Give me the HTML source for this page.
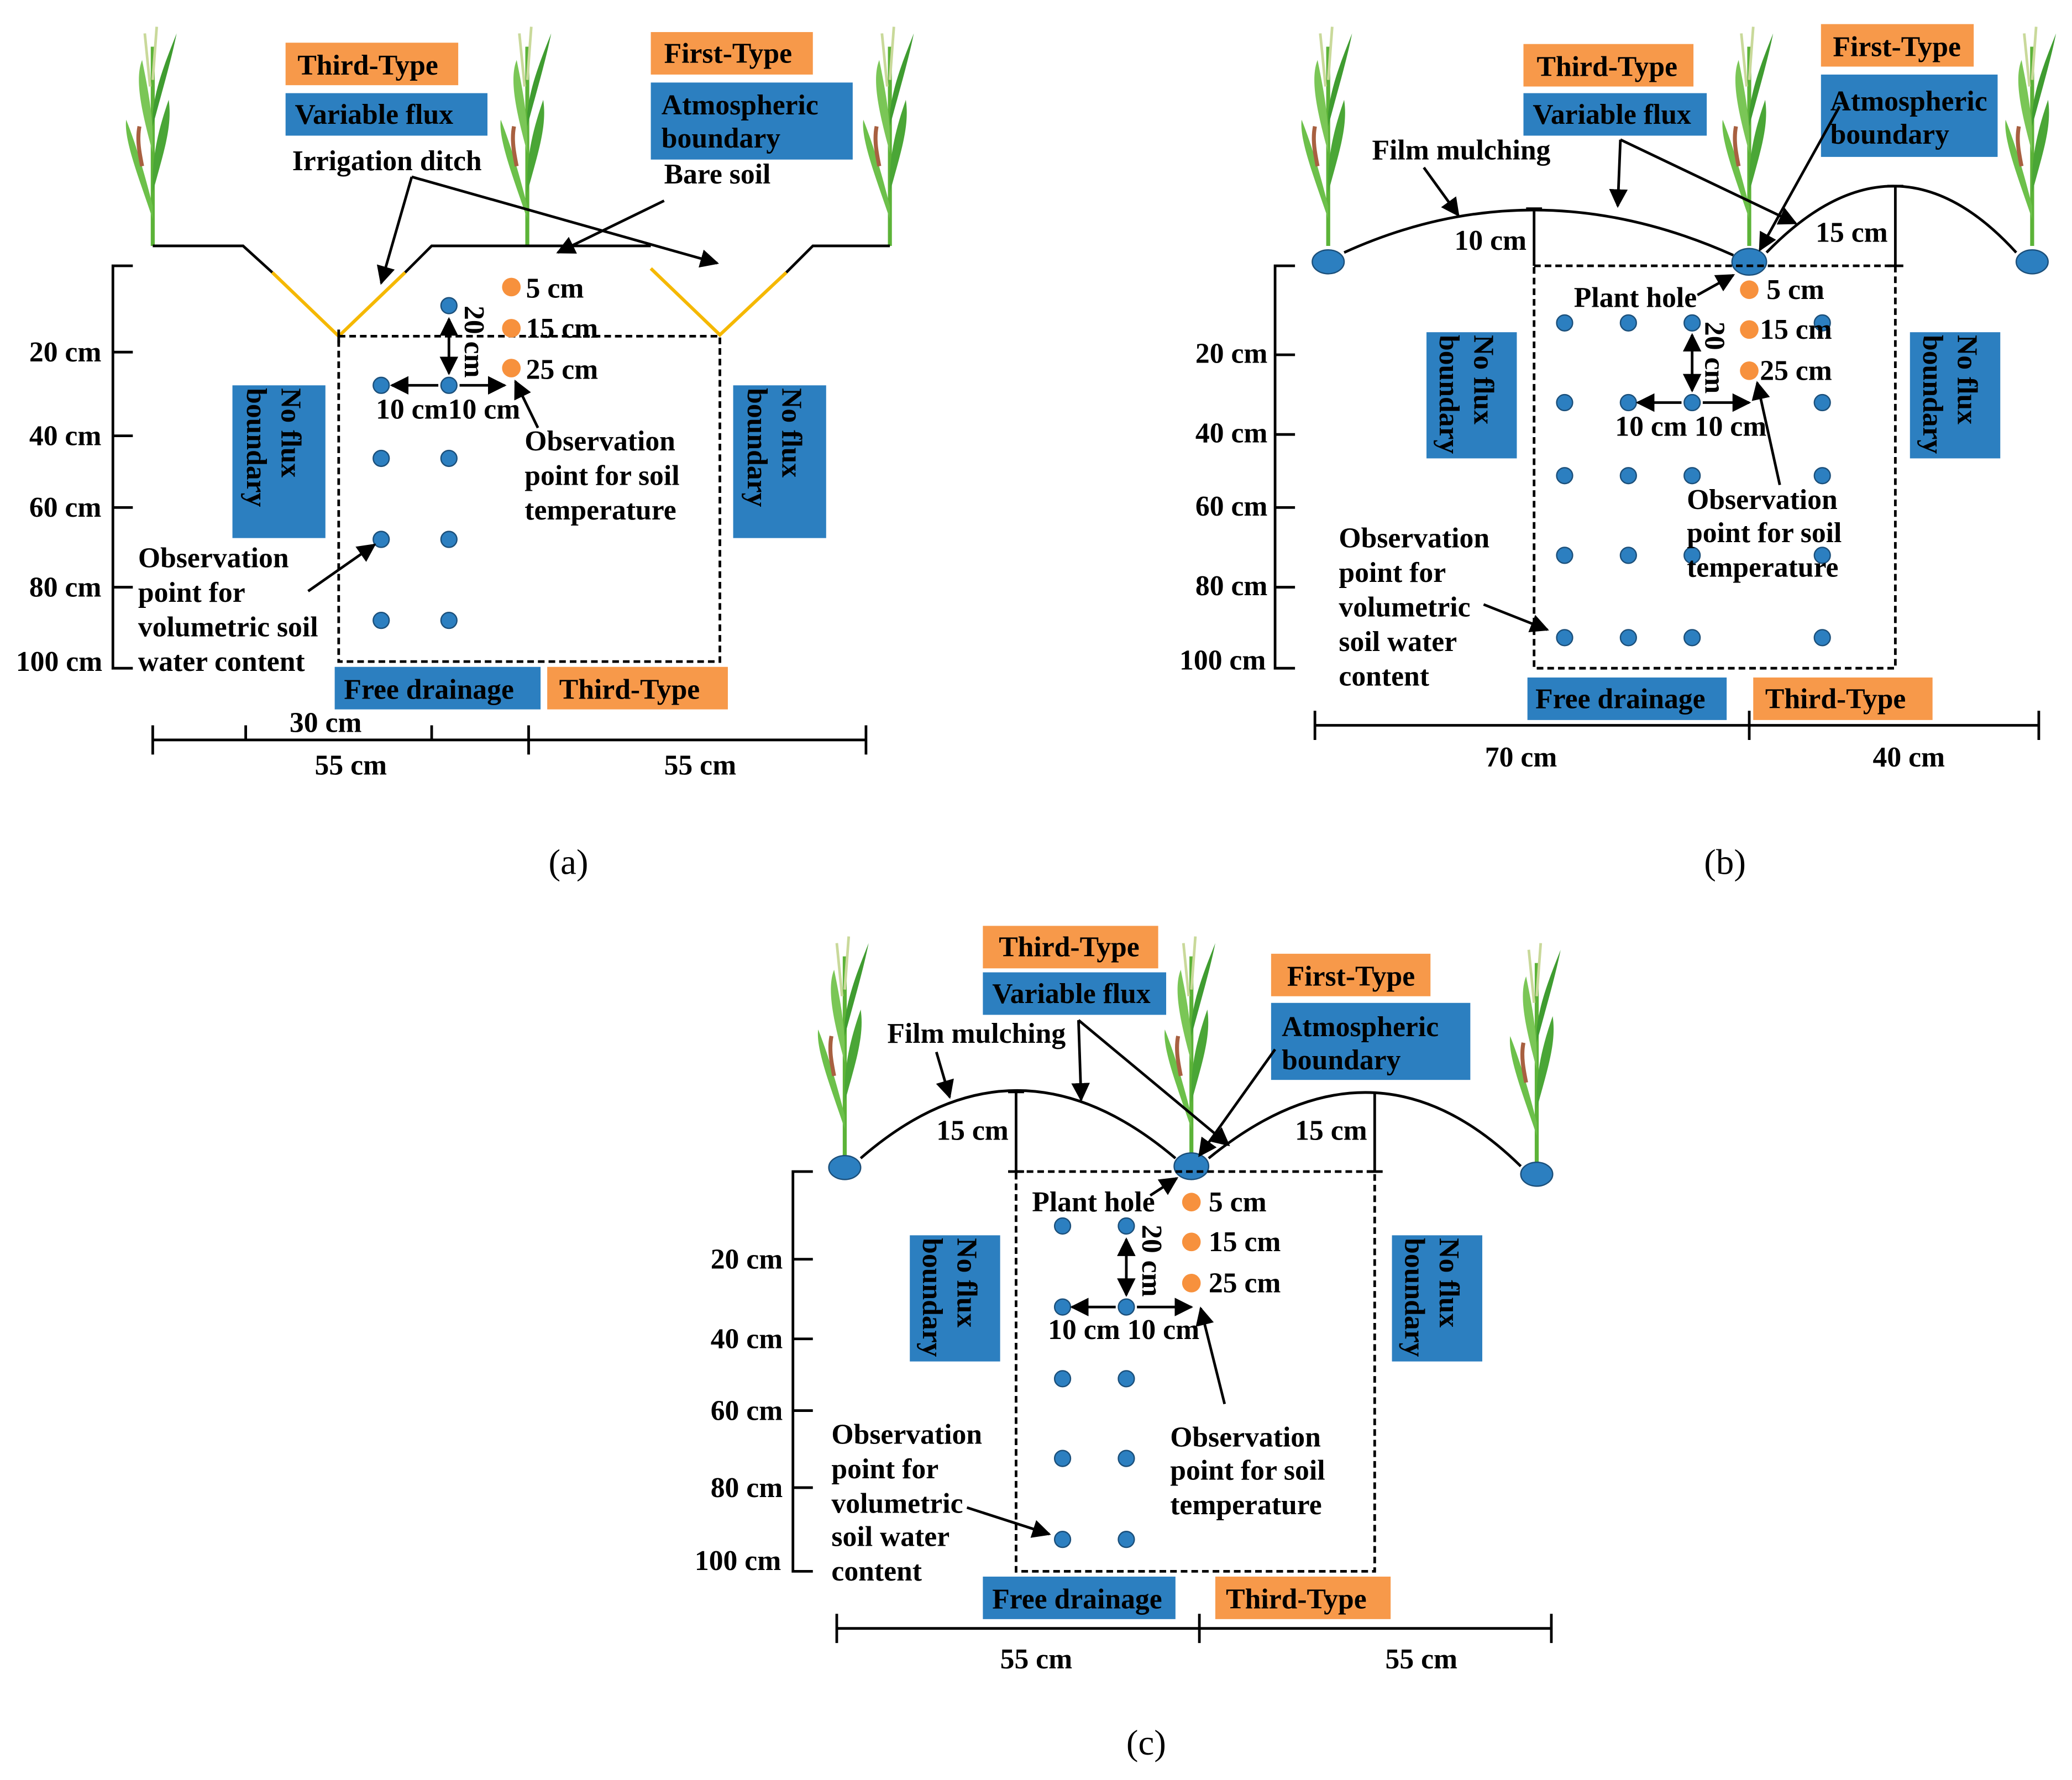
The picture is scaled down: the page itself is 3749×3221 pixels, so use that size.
<!DOCTYPE html>
<html><head><meta charset="utf-8"><style>html,body{margin:0;padding:0;background:#fff}svg{display:block}
text{font-family:"Liberation Serif",serif;font-weight:bold;font-size:21.5px;fill:#000}
.o{fill:#F7994A}.b{fill:#2C7FC0}.lab{font-size:27px;font-weight:normal}
.ln{stroke:#000;stroke-width:2;fill:none}
.dot{fill:#2C7FC0;stroke:#1b4f7a;stroke-width:1}.od{fill:#F7913D}
</style></head><body>
<svg width="3749" height="3221" viewBox="0 0 1560 1340" xmlns="http://www.w3.org/2000/svg">
<defs>
<marker id="ar" viewBox="0 0 10 10" refX="9" refY="5" markerWidth="7" markerHeight="7" orient="auto-start-reverse"><path d="M0,0 L10,5 L0,10 z" fill="#000"/></marker>
<g id="plant">
<path d="M0,0 L0,-150" stroke="#5cb338" stroke-width="3"/>
<path d="M0,-20 C-10,-50 -22,-80 -20,-95 C-12,-75 -5,-50 0,-30z" fill="#6cc04a"/>
<path d="M0,-40 C8,-70 15,-90 12,-110 C5,-90 0,-70 0,-50z" fill="#4aa636"/>
<path d="M0,-70 C-8,-100 -14,-125 -8,-140 C-4,-120 0,-100 0,-80z" fill="#7ac656"/>
<path d="M0,-90 C8,-120 14,-140 18,-160 C10,-140 2,-120 0,-100z" fill="#3f9c30"/>
<path d="M-2,-120 L-6,-160 M0,-125 L3,-165" stroke="#c9d99a" stroke-width="2"/>
<path d="M-8,-60 C-10,-70 -12,-80 -10,-90" stroke="#a86040" stroke-width="3" fill="none"/>
</g>
</defs>
<rect width="1560" height="1340" fill="#fff"/>

<!-- ===== (a) ===== -->
<use href="#plant" x="115" y="185"/><use href="#plant" x="397" y="185"/><use href="#plant" x="670" y="185"/>
<polyline class="ln" points="115,185 183,185 205,205"/>
<polyline points="205,205 255,253 305,205" stroke="#F5B800" stroke-width="2.5" fill="none"/>
<polyline class="ln" points="305,205 325,185 490,185"/>
<polyline points="490,202 542,252 592,205" stroke="#F5B800" stroke-width="2.5" fill="none"/>
<polyline class="ln" points="592,205 612,185 670,185"/>
<rect x="255" y="253" width="287" height="245" fill="none" stroke="#000" stroke-width="2" stroke-dasharray="5,3"/>
<path class="ln" d="M255,248 V258 M100,200 H85 V503 H100 M85,265 H100 M85,328 H100 M85,382 H100 M85,442 H100"/>
<text x="22" y="272">20 cm</text><text x="22" y="335">40 cm</text><text x="22" y="389">60 cm</text><text x="22" y="449">80 cm</text><text x="12" y="505">100 cm</text>
<rect class="o" x="215" y="32" width="130" height="32"/><text x="224" y="56">Third-Type</text>
<rect class="b" x="215" y="70" width="152" height="32"/><text x="222" y="93">Variable flux</text>
<rect class="o" x="490" y="24" width="122" height="32"/><text x="500" y="47">First-Type</text>
<rect class="b" x="490" y="62" width="152" height="58"/><text x="498" y="86">Atmospheric</text><text x="498" y="111">boundary</text>
<rect class="b" x="175" y="290" width="70" height="115"/><text transform="translate(212,292) rotate(90)">No flux</text><text transform="translate(186,292) rotate(90)">boundary</text>
<rect class="b" x="552" y="290" width="70" height="115"/><text transform="translate(589,292) rotate(90)">No flux</text><text transform="translate(563,292) rotate(90)">boundary</text>
<rect class="b" x="252" y="502" width="155" height="32"/><text x="259" y="526">Free drainage</text>
<rect class="o" x="412" y="502" width="136" height="32"/><text x="421" y="526">Third-Type</text>
<path class="ln" d="M115,557 H652 M115,546 V568 M185,546 V557 M325,546 V557 M398,546 V568 M652,546 V568"/>
<text x="218" y="551">30 cm</text><text x="237" y="583">55 cm</text><text x="500" y="583">55 cm</text>
<text x="220" y="128">Irrigation ditch</text><text x="500" y="138">Bare soil</text>
<path class="ln" d="M310,133 L287,213" marker-end="url(#ar)"/><path class="ln" d="M310,133 L540,198" marker-end="url(#ar)"/>
<path class="ln" d="M500,151 L420,190" marker-end="url(#ar)"/>
<g class="dot"><circle cx="338" cy="230" r="6"/><circle cx="287" cy="290" r="6"/><circle cx="338" cy="290" r="6"/><circle cx="287" cy="345" r="6"/><circle cx="338" cy="345" r="6"/><circle cx="287" cy="406" r="6"/><circle cx="338" cy="406" r="6"/><circle cx="287" cy="467" r="6"/><circle cx="338" cy="467" r="6"/></g>
<g class="od"><circle cx="385" cy="216" r="7"/><circle cx="385" cy="247" r="7"/><circle cx="385" cy="277" r="7"/></g>
<text x="396" y="224">5 cm</text><text x="396" y="254">15 cm</text><text x="396" y="285">25 cm</text>
<path class="ln" d="M338,240 V281" marker-start="url(#ar)" marker-end="url(#ar)"/>
<path class="ln" d="M295,290 H330 M346,290 H380" marker-start="url(#ar)" marker-end="url(#ar)"/>
<text transform="translate(350,230) rotate(90)">20 cm</text>
<text x="283" y="315">10 cm10 cm</text>
<text x="395" y="339">Observation</text><text x="395" y="365">point for soil</text><text x="395" y="391">temperature</text>
<path class="ln" d="M405,322 L388,287" marker-end="url(#ar)"/>
<text x="104" y="427">Observation</text><text x="104" y="453">point for</text><text x="104" y="479">volumetric soil</text><text x="104" y="505">water content</text>
<path class="ln" d="M232,445 L282,410" marker-end="url(#ar)"/>
<text class="lab" x="413" y="658">(a)</text>

<!-- ===== (b) ===== -->
<use href="#plant" x="1000" y="185"/><use href="#plant" x="1317" y="185"/><use href="#plant" x="1530" y="185"/>
<path class="ln" d="M1012,190 Q1155,125 1305,192"/>
<path class="ln" d="M1330,190 Q1427,90 1518,190"/>
<g class="dot"><ellipse cx="1000" cy="197" rx="12" ry="9"/><ellipse cx="1317" cy="197" rx="13" ry="10"/><ellipse cx="1530" cy="197" rx="12" ry="9"/></g>
<rect x="1155" y="200" width="272" height="303" fill="none" stroke="#000" stroke-width="2" stroke-dasharray="5,3"/>
<path class="ln" d="M1155,157 V200 M1149,157 H1161 M1427,140 V200 M1421,140 H1433 M1421,200 H1433"/>
<text x="1095" y="188">10 cm</text><text x="1367" y="182">15 cm</text>
<path class="ln" d="M975,200 H960 V503 H975 M960,267 H975 M960,327 H975 M960,382 H975 M960,442 H975"/>
<text x="900" y="273">20 cm</text><text x="900" y="333">40 cm</text><text x="900" y="388">60 cm</text><text x="900" y="448">80 cm</text><text x="888" y="504">100 cm</text>
<rect class="o" x="1147" y="33" width="128" height="32"/><text x="1157" y="57">Third-Type</text>
<rect class="b" x="1147" y="70" width="138" height="32"/><text x="1154" y="93">Variable flux</text>
<rect class="o" x="1371" y="18" width="115" height="32"/><text x="1380" y="42">First-Type</text>
<rect class="b" x="1371" y="56" width="133" height="62"/><text x="1378" y="83">Atmospheric</text><text x="1378" y="108">boundary</text>
<rect class="b" x="1074" y="250" width="68" height="95"/><text transform="translate(1110,252) rotate(90)">No flux</text><text transform="translate(1084,252) rotate(90)">boundary</text>
<rect class="b" x="1438" y="250" width="68" height="95"/><text transform="translate(1474,252) rotate(90)">No flux</text><text transform="translate(1448,252) rotate(90)">boundary</text>
<rect class="b" x="1150" y="510" width="150" height="32"/><text x="1156" y="533">Free drainage</text>
<rect class="o" x="1320" y="510" width="135" height="32"/><text x="1329" y="533">Third-Type</text>
<path class="ln" d="M990,546 H1535 M990,535 V557 M1317,535 V557 M1535,535 V557"/>
<text x="1118" y="577">70 cm</text><text x="1410" y="577">40 cm</text>
<text x="1033" y="120">Film mulching</text>
<path class="ln" d="M1072,126 L1098,162" marker-end="url(#ar)"/>
<path class="ln" d="M1220,105 L1218,155" marker-end="url(#ar)"/><path class="ln" d="M1220,105 L1352,168" marker-end="url(#ar)"/>
<path class="ln" d="M1385,80 L1325,188" marker-end="url(#ar)"/>
<text x="1185" y="231">Plant hole</text><path class="ln" d="M1278,222 L1305,207" marker-end="url(#ar)"/>
<g class="dot">
<circle cx="1178" cy="243" r="6"/><circle cx="1226" cy="243" r="6"/><circle cx="1274" cy="243" r="6"/><circle cx="1372" cy="243" r="6"/>
<circle cx="1178" cy="303" r="6"/><circle cx="1226" cy="303" r="6"/><circle cx="1274" cy="303" r="6"/><circle cx="1372" cy="303" r="6"/>
<circle cx="1178" cy="358" r="6"/><circle cx="1226" cy="358" r="6"/><circle cx="1274" cy="358" r="6"/><circle cx="1372" cy="358" r="6"/>
<circle cx="1178" cy="418" r="6"/><circle cx="1226" cy="418" r="6"/><circle cx="1274" cy="418" r="6"/><circle cx="1372" cy="418" r="6"/>
<circle cx="1178" cy="480" r="6"/><circle cx="1226" cy="480" r="6"/><circle cx="1274" cy="480" r="6"/><circle cx="1372" cy="480" r="6"/></g>
<g class="od"><circle cx="1317" cy="218" r="7"/><circle cx="1317" cy="248" r="7"/><circle cx="1317" cy="279" r="7"/></g>
<text x="1330" y="225">5 cm</text><text x="1325" y="255">15 cm</text><text x="1325" y="286">25 cm</text>
<path class="ln" d="M1274,252 V294" marker-start="url(#ar)" marker-end="url(#ar)"/>
<path class="ln" d="M1233,303 H1266 M1282,303 H1317" marker-start="url(#ar)" marker-end="url(#ar)"/>
<text transform="translate(1284,242) rotate(90)">20 cm</text>
<text x="1216" y="328">10 cm 10 cm</text>
<text x="1270" y="383">Observation</text><text x="1270" y="408">point for soil</text><text x="1270" y="434">temperature</text>
<path class="ln" d="M1340,365 L1323,288" marker-end="url(#ar)"/>
<text x="1008" y="412">Observation</text><text x="1008" y="438">point for</text><text x="1008" y="464">volumetric</text><text x="1008" y="490">soil water</text><text x="1008" y="516">content</text>
<path class="ln" d="M1117,455 L1165,474" marker-end="url(#ar)"/>
<text class="lab" x="1283" y="658">(b)</text>

<!-- ===== (c) ===== -->
<use href="#plant" x="636" y="870"/><use href="#plant" x="897" y="870"/><use href="#plant" x="1157" y="875"/>
<path class="ln" d="M648,872 Q765,770 885,872"/>
<path class="ln" d="M910,872 Q1035,770 1145,878"/>
<g class="dot"><ellipse cx="636" cy="879" rx="12" ry="9"/><ellipse cx="897" cy="878" rx="13" ry="10"/><ellipse cx="1157" cy="884" rx="12" ry="9"/></g>
<rect x="765" y="882" width="270" height="301" fill="none" stroke="#000" stroke-width="2" stroke-dasharray="5,3"/>
<path class="ln" d="M765,822 V882 M759,822 H771 M759,882 H771 M1035,822 V882 M1029,882 H1041"/>
<text x="705" y="858">15 cm</text><text x="975" y="858">15 cm</text>
<path class="ln" d="M612,882 H597 V1183 H612 M597,948 H612 M597,1008 H612 M597,1062 H612 M597,1120 H612"/>
<text x="535" y="955">20 cm</text><text x="535" y="1015">40 cm</text><text x="535" y="1069">60 cm</text><text x="535" y="1127">80 cm</text><text x="523" y="1182">100 cm</text>
<rect class="o" x="740" y="697" width="132" height="32"/><text x="752" y="720">Third-Type</text>
<rect class="b" x="740" y="732" width="138" height="32"/><text x="747" y="755">Variable flux</text>
<rect class="o" x="957" y="718" width="120" height="32"/><text x="969" y="742">First-Type</text>
<rect class="b" x="957" y="755" width="150" height="58"/><text x="965" y="780">Atmospheric</text><text x="965" y="805">boundary</text>
<rect class="b" x="685" y="930" width="68" height="95"/><text transform="translate(721,932) rotate(90)">No flux</text><text transform="translate(695,932) rotate(90)">boundary</text>
<rect class="b" x="1048" y="930" width="68" height="95"/><text transform="translate(1084,932) rotate(90)">No flux</text><text transform="translate(1058,932) rotate(90)">boundary</text>
<rect class="b" x="740" y="1187" width="145" height="32"/><text x="747" y="1211">Free drainage</text>
<rect class="o" x="915" y="1187" width="132" height="32"/><text x="923" y="1211">Third-Type</text>
<path class="ln" d="M630,1226 H1168 M630,1215 V1237 M903,1215 V1237 M1168,1215 V1237"/>
<text x="753" y="1256">55 cm</text><text x="1043" y="1256">55 cm</text>
<text x="668" y="785">Film mulching</text>
<path class="ln" d="M705,792 L715,826" marker-end="url(#ar)"/>
<path class="ln" d="M812,768 L814,828" marker-end="url(#ar)"/><path class="ln" d="M812,768 L925,862" marker-end="url(#ar)"/>
<path class="ln" d="M960,790 L903,870" marker-end="url(#ar)"/>
<text x="777" y="912">Plant hole</text><path class="ln" d="M866,900 L886,887" marker-end="url(#ar)"/>
<g class="dot"><circle cx="800" cy="923" r="6"/><circle cx="848" cy="923" r="6"/><circle cx="800" cy="984" r="6"/><circle cx="848" cy="984" r="6"/><circle cx="800" cy="1038" r="6"/><circle cx="848" cy="1038" r="6"/><circle cx="800" cy="1098" r="6"/><circle cx="848" cy="1098" r="6"/><circle cx="800" cy="1159" r="6"/><circle cx="848" cy="1159" r="6"/></g>
<g class="od"><circle cx="897" cy="905" r="7"/><circle cx="897" cy="935" r="7"/><circle cx="897" cy="966" r="7"/></g>
<text x="910" y="912">5 cm</text><text x="910" y="942">15 cm</text><text x="910" y="973">25 cm</text>
<path class="ln" d="M848,933 V975" marker-start="url(#ar)" marker-end="url(#ar)"/>
<path class="ln" d="M807,984 H840 M856,984 H897" marker-start="url(#ar)" marker-end="url(#ar)"/>
<text transform="translate(860,922) rotate(90)">20 cm</text>
<text x="789" y="1008">10 cm 10 cm</text>
<text x="881" y="1089">Observation</text><text x="881" y="1114">point for soil</text><text x="881" y="1140">temperature</text>
<path class="ln" d="M922,1057 L904,985" marker-end="url(#ar)"/>
<text x="626" y="1087">Observation</text><text x="626" y="1113">point for</text><text x="626" y="1139">volumetric</text><text x="626" y="1164">soil water</text><text x="626" y="1190">content</text>
<path class="ln" d="M728,1135 L790,1155" marker-end="url(#ar)"/>
<text class="lab" x="848" y="1321">(c)</text>
</svg>
</body></html>
